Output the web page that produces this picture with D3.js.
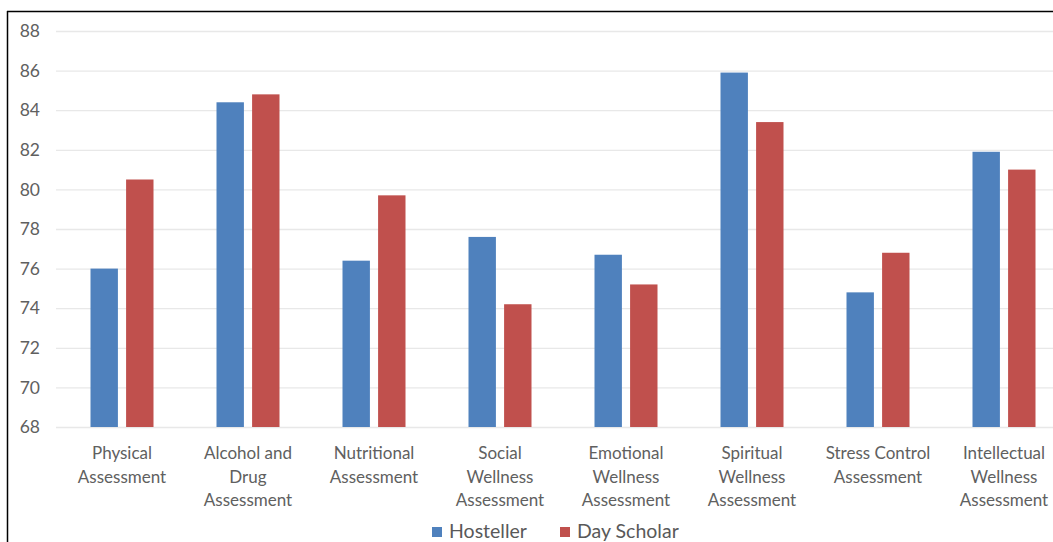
<!DOCTYPE html>
<html lang="en">
<head>
<meta charset="utf-8">
<title>Wellness assessment</title>
<script src="https://cdnjs.cloudflare.com/ajax/libs/d3/7.8.5/d3.min.js"></script>
<style>
  body { margin: 0; background: #fff; }
  svg { display: block; font-family: Lato, "Open Sans", sans-serif; }
  .grid line { stroke: #e8e8e8; stroke-width: 1.3; }
  .grid path { display: none; }
  .ylab text { fill: #606060; font-size: 17.5px; }
  .xlab text { fill: #606060; font-size: 17px; }
</style>
</head>
<body>
<div id="chart"></div>
<script>
// data
const categories = ["Physical Assessment", "Alcohol and Drug Assessment", "Nutritional Assessment",
  "Social Wellness Assessment", "Emotional Wellness Assessment", "Spiritual Wellness Assessment",
  "Stress Control Assessment", "Intellectual Wellness Assessment"];
const labelLines = [["Physical", "Assessment"], ["Alcohol and", "Drug", "Assessment"], ["Nutritional", "Assessment"],
  ["Social", "Wellness", "Assessment"], ["Emotional", "Wellness", "Assessment"], ["Spiritual", "Wellness", "Assessment"],
  ["Stress Control", "Assessment"], ["Intellectual", "Wellness", "Assessment"]];
const seriesNames = ["Hosteller", "Day Scholar"];
const hosteller = [76.0, 84.4, 76.4, 77.6, 76.7, 85.9, 74.8, 81.9];
const dayScholar = [80.5, 84.8, 79.7, 74.2, 75.2, 83.4, 76.8, 81.0];
const yTicks = [68, 70, 72, 74, 76, 78, 80, 82, 84, 86, 88];
const colors = ["#4F81BD", "#C0504D"];

const width = 1053, height = 542;
const plot = {left: 59, right: 1067, top: 31, bottom: 427};

const svg = d3.select("#chart").append("svg")
  .attr("width", width)
  .attr("height", height);

// frame (only the top and left edges show in the crop)
svg.append("line").attr("x1", 7).attr("x2", width).attr("y1", 11.5).attr("y2", 11.5)
  .attr("stroke", "#000").attr("stroke-width", 1.5);
svg.append("line").attr("x1", 7.5).attr("x2", 7.5).attr("y1", 11).attr("y2", height)
  .attr("stroke", "#000").attr("stroke-width", 1.5);

const y = d3.scaleLinear().domain([68, 88]).range([plot.bottom, plot.top]);

const x0 = d3.scaleBand()
  .domain(categories)
  .range([plot.left, plot.right])
  .paddingInner(0.5)
  .paddingOuter(0.25);

const x1 = d3.scaleBand()
  .domain(seriesNames)
  .range([0, x0.bandwidth()])
  .paddingInner(0.23);

// gridlines
svg.append("g")
  .attr("class", "grid")
  .attr("transform", "translate(56,0)")
  .call(d3.axisRight(y).tickValues(yTicks).tickSize(width - 56).tickFormat(""));

// y labels
svg.append("g")
  .attr("class", "ylab")
  .selectAll("text")
  .data(yTicks)
  .join("text")
    .attr("x", 40)
    .attr("y", d => y(d))
    .attr("dy", "0.35em")
    .attr("text-anchor", "end")
    .text(d => d);

const rows = categories.map((c, i) => ({cat: c, values: [hosteller[i], dayScholar[i]]}));

const groups = svg.append("g")
  .selectAll("g")
  .data(rows)
  .join("g")
    .attr("transform", d => "translate(" + x0(d.cat) + ",0)");

groups.selectAll("rect")
  .data(d => d.values.map((v, j) => ({name: seriesNames[j], value: v, j: j})))
  .join("rect")
    .attr("x", d => x1(d.name))
    .attr("y", d => y(d.value))
    .attr("width", x1.bandwidth())
    .attr("height", d => y(68) - y(d.value))
    .attr("fill", d => colors[d.j]);

// category labels
const xl = svg.append("g").attr("class", "xlab");
categories.forEach((c, i) => {
  const t = xl.append("text")
    .attr("x", x0(c) + x0.bandwidth() / 2)
    .attr("y", 459)
    .attr("text-anchor", "middle");
  labelLines[i].forEach((line, k) => {
    t.append("tspan")
      .attr("x", x0(c) + x0.bandwidth() / 2)
      .attr("dy", k === 0 ? 0 : 23.5)
      .text(line);
  });
});

// legend
const legendX = [432, 560];
const legend = svg.append("g")
  .selectAll("g")
  .data(seriesNames)
  .join("g")
    .attr("transform", (d, i) => "translate(" + legendX[i] + ",0)");
legend.append("rect")
  .attr("x", 0).attr("y", 527).attr("width", 10).attr("height", 10)
  .attr("fill", (d, i) => colors[i]);
legend.append("text")
  .attr("x", 17).attr("y", 538)
  .attr("fill", "#595959")
  .style("font-size", "19.5px")
  .text(d => d);
</script>
</body>
</html>
